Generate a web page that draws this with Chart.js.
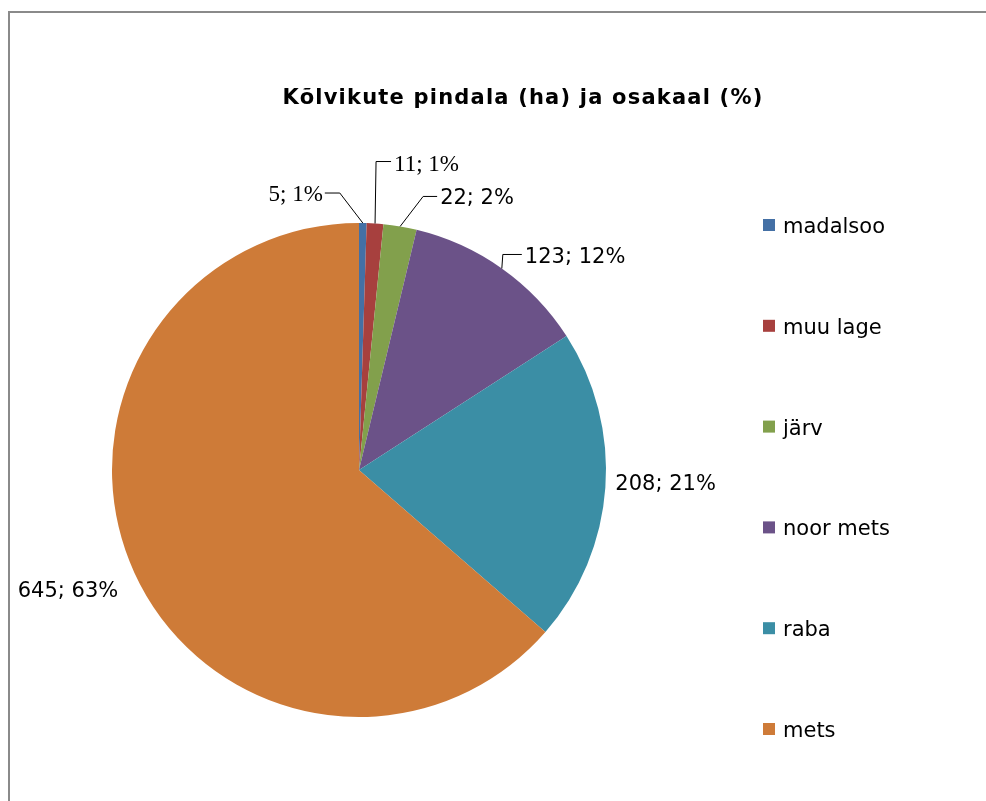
<!DOCTYPE html>
<html>
<head>
<meta charset="utf-8">
<script src="https://cdn.jsdelivr.net/npm/chart.js@4.4.0/dist/chart.umd.min.js"></script>
<style>
body { margin: 0; background: #fff; }
#wrap { width: 986px; height: 801px; }
</style>
</head>
<body>
<div id="wrap"><canvas id="pie-chart" width="986" height="801"></canvas></div>
<script>
// DATA
const chartTitle = "Kõlvikute pindala (ha) ja osakaal (%)";
const categories = ["madalsoo", "muu lage", "järv", "noor mets", "raba", "mets"];
const areas = [5, 11, 22, 123, 208, 645];
const shares = [1, 1, 2, 12, 21, 63];
const sliceColors = ["#4470a5", "#a7403e", "#82a04c", "#6b5288", "#3b8ea5", "#ce7b38"];

// LABEL PLACEMENT (relative to the slice's outer edge at mid angle)
const labelLayout = [
    { elbow: [-23, -30], run: -15, dy: 2, serif: true },
    { elbow: [1, -62], run: 15, dy: 3, serif: true },
    { elbow: [23, -30], run: 14, dy: 2 },
    { elbow: [1, -14], run: 19, dy: 3 },
    { offset: [10, -3] },
    { offset: [-16, 19] },
];

const sansFont = "21px 'DejaVu Sans', Verdana, sans-serif";
const serifFont = "23px 'Liberation Serif', 'Times New Roman', serif";

// PLUGINS
const framePlugin = {
    id: "frame",
    beforeDraw: (chart) => {
        const ctx = chart.ctx;
        ctx.save();
        ctx.fillStyle = "#fff";
        ctx.fillRect(0, 0, chart.width, chart.height);
        ctx.strokeStyle = "#8a8a8a";
        ctx.lineWidth = 2;
        ctx.beginPath();
        ctx.moveTo(9, chart.height);
        ctx.lineTo(9, 12);
        ctx.lineTo(chart.width, 12);
        ctx.stroke();
        // title
        ctx.fillStyle = "#000";
        ctx.font = "bold 21px 'DejaVu Sans', Verdana, sans-serif";
        ctx.letterSpacing = "1.2px";
        ctx.textAlign = "center";
        ctx.textBaseline = "alphabetic";
        ctx.fillText(chartTitle, 523, 104);
        ctx.restore();
    },
};

const labelsPlugin = {
    id: "sliceLabels",
    afterDatasetsDraw: (chart) => {
        const ctx = chart.ctx;
        const meta = chart.getDatasetMeta(0);
        ctx.save();
        ctx.fillStyle = "#000";
        ctx.strokeStyle = "#000";
        ctx.lineWidth = 1;
        ctx.textBaseline = "middle";
        meta.data.forEach((arc, i) => {
            const p = arc.getProps(["x", "y", "startAngle", "endAngle", "outerRadius"], true);
            const mid = (p.startAngle + p.endAngle) / 2;
            const ex = p.x + Math.cos(mid) * p.outerRadius;
            const ey = p.y + Math.sin(mid) * p.outerRadius;
            const lay = labelLayout[i];
            const text = `${areas[i]}; ${shares[i]}%`;
            ctx.font = lay.serif ? serifFont : sansFont;
            if (lay.elbow) {
                const bx = ex + lay.elbow[0];
                const by = ey + lay.elbow[1];
                const tx = bx + lay.run;
                ctx.beginPath();
                ctx.moveTo(ex, ey);
                ctx.lineTo(bx, by);
                ctx.lineTo(tx, by);
                ctx.stroke();
                ctx.textAlign = lay.run < 0 ? "right" : "left";
                ctx.fillText(text, tx + (lay.run < 0 ? -2 : 3), by + lay.dy);
            } else {
                ctx.textAlign = lay.offset[0] < 0 ? "right" : "left";
                ctx.fillText(text, ex + lay.offset[0], ey + lay.offset[1]);
            }
        });
        ctx.restore();
    },
};

const legendPlugin = {
    id: "sideLegend",
    afterDraw: (chart) => {
        const ctx = chart.ctx;
        ctx.save();
        ctx.font = sansFont;
        ctx.textAlign = "left";
        ctx.textBaseline = "alphabetic";
        categories.forEach((name, i) => {
            const cy = 225 + i * 100.8;
            ctx.fillStyle = sliceColors[i];
            ctx.fillRect(763, cy - 6, 12, 12);
            ctx.fillStyle = "#000";
            ctx.fillText(name, 783, cy + 8);
        });
        ctx.restore();
    },
};

// CHART
const pieChart = document.getElementById("pie-chart");
const config = {
    type: "pie",
    data: {
        labels: categories,
        datasets: [
            {
                data: areas,
                backgroundColor: sliceColors,
                borderWidth: 0,
                hoverOffset: 0,
            },
        ],
    },
    options: {
        responsive: false,
        animation: false,
        layout: {
            padding: { left: 112, right: 380, top: 223, bottom: 84 },
        },
        plugins: {
            legend: { display: false },
            title: { display: false },
            tooltip: { enabled: false },
        },
    },
    plugins: [framePlugin, labelsPlugin, legendPlugin],
};
new Chart(pieChart, config);
</script>
</body>
</html>
